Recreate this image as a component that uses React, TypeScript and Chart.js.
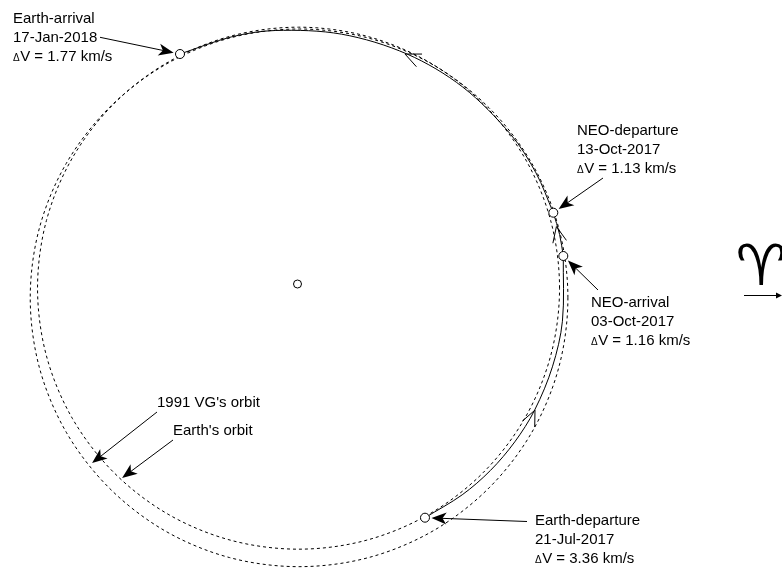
import { useEffect, useRef } from 'react';
import { Chart, registerables } from 'chart.js';

Chart.register(...registerables);

type Pt = { x: number; y: number };

// Heliocentric ecliptic coordinates in AU; +x points toward the vernal equinox.
const earthOrbit: Pt[] = [
  { x: 1.004, y: -0.016 }, { x: 0.970, y: 0.243 }, { x: 0.870, y: 0.484 }, { x: 0.711, y: 0.691 },
  { x: 0.504, y: 0.850 }, { x: 0.263, y: 0.950 }, { x: 0.004, y: 0.984 }, { x: -0.255, y: 0.950 },
  { x: -0.496, y: 0.850 }, { x: -0.703, y: 0.691 }, { x: -0.862, y: 0.484 }, { x: -0.962, y: 0.243 },
  { x: -0.996, y: -0.016 }, { x: -0.962, y: -0.275 }, { x: -0.862, y: -0.516 }, { x: -0.703, y: -0.723 },
  { x: -0.496, y: -0.882 }, { x: -0.255, y: -0.982 }, { x: 0.004, y: -1.016 }, { x: 0.263, y: -0.982 },
  { x: 0.504, y: -0.882 }, { x: 0.711, y: -0.723 }, { x: 0.870, y: -0.516 }, { x: 0.970, y: -0.275 },
];

const vgOrbit: Pt[] = [
  { x: 1.036, y: -0.053 }, { x: 1.001, y: 0.214 }, { x: 0.898, y: 0.462 }, { x: 0.734, y: 0.675 },
  { x: 0.521, y: 0.839 }, { x: 0.273, y: 0.942 }, { x: 0.006, y: 0.977 }, { x: -0.261, y: 0.942 },
  { x: -0.509, y: 0.839 }, { x: -0.722, y: 0.675 }, { x: -0.886, y: 0.462 }, { x: -0.989, y: 0.214 },
  { x: -1.024, y: -0.053 }, { x: -0.989, y: -0.320 }, { x: -0.886, y: -0.568 }, { x: -0.722, y: -0.781 },
  { x: -0.509, y: -0.945 }, { x: -0.261, y: -1.048 }, { x: 0.006, y: -1.083 }, { x: 0.273, y: -1.048 },
  { x: 0.521, y: -0.945 }, { x: 0.734, y: -0.781 }, { x: 0.898, y: -0.568 }, { x: 1.001, y: -0.320 },
];

const eventNames = ['Earth-departure', 'NEO-arrival', 'NEO-departure', 'Earth-arrival'];
const eventDates = ['21-Jul-2017', '03-Oct-2017', '13-Oct-2017', '17-Jan-2018'];
const eventDeltaV = ['3.36', '1.16', '1.13', '1.77'];
const eventPoints: Pt[] = [
  { x: 0.4885, y: -0.8954 },
  { x: 1.0184, y: 0.1073 },
  { x: 0.9801, y: 0.2732 },
  { x: -0.4502, y: 0.8812 },
];

const sunPoint: Pt[] = [{ x: 0, y: 0 }];

// Transfer trajectory: Earth -> NEO, stay at the NEO, NEO -> Earth
const outboundLeg: Pt[] = [
  eventPoints[0],
  { x: 0.6311, y: -0.8077 },
  { x: 0.7395, y: -0.7141 },
  { x: 0.8325, y: -0.6048 },
  { x: 0.9086, y: -0.4831 },
  { x: 0.9767, y: -0.3174 },
  { x: 1.0150, y: -0.1427 },
  eventPoints[1],
];
const stayArc: Pt[] = [eventPoints[1], { x: 1.0042, y: 0.1898 }, eventPoints[2]];
const returnLeg: Pt[] = [
  eventPoints[2],
  { x: 0.9136, y: 0.4260 },
  { x: 0.8175, y: 0.5724 },
  { x: 0.6331, y: 0.7546 },
  { x: 0.4201, y: 0.8809 },
  { x: 0.1688, y: 0.9572 },
  { x: -0.0850, y: 0.9713 },
  { x: -0.2536, y: 0.9466 },
  eventPoints[3],
];

// Direction-of-motion marks: tip position and heading (degrees, ecliptic frame)
const flowMarks = [
  { x: 0.910, y: -0.483, heading: 65 },
  { x: 0.992, y: 0.220, heading: 102 },
  { x: 0.412, y: 0.881, heading: 156 },
];

const orbitLabels = ["1991 VG's orbit", "Earth's orbit"];
const orbitLabelTips: Pt[] = [
  { x: -0.787, y: -0.686 },
  { x: -0.672, y: -0.743 },
];

// ---- layout (pixels) ----
const W = 782;
const H = 569;
const PX_PER_AU = 261;
const SUN_PX = { x: 297.5, y: 284 };
const X_MIN = -SUN_PX.x / PX_PER_AU;
const X_MAX = (W - SUN_PX.x) / PX_PER_AU;
const Y_MAX = SUN_PX.y / PX_PER_AU;
const Y_MIN = -(H - SUN_PX.y) / PX_PER_AU;

const FONT = '"Liberation Sans", Arial, Helvetica, sans-serif';
const LINE_STEP = 19;

const eventLabelLayout = [
  { left: 535, baseline: 525, tail: { x: 527, y: 521.5 } },
  { left: 591, baseline: 306.5, tail: { x: 598, y: 290 } },
  { left: 577, baseline: 135, tail: { x: 603, y: 178 } },
  { left: 13, baseline: 23.3, tail: { x: 100, y: 37.3 } },
];
const orbitLabelLayout = [
  { left: 157, baseline: 406.5, tail: { x: 157, y: 412 } },
  { left: 173, baseline: 435, tail: { x: 173, y: 440 } },
];

const closeLoop = (pts: Pt[]) => [pts[pts.length - 1], ...pts, pts[0], pts[1]];

function orbitDataset(pts: Pt[]) {
  const n = pts.length;
  return {
    data: closeLoop(pts),
    showLine: true,
    borderColor: '#000',
    borderWidth: 1,
    borderDash: [3, 3],
    pointRadius: 0,
    tension: 0.33,
    fill: false,
    segment: {
      borderColor: (c: any) => (c.p0DataIndex === 0 || c.p0DataIndex === n + 1 ? 'rgba(0,0,0,0)' : '#000'),
    },
  };
}

function pathDataset(pts: Pt[]) {
  return {
    data: pts,
    showLine: true,
    borderColor: '#000',
    borderWidth: 1,
    pointRadius: 0,
    tension: 0.33,
    fill: false,
  };
}

function filledHead(ctx: CanvasRenderingContext2D, tip: Pt, from: Pt, len: number, half: number, notch: number) {
  const a = Math.atan2(tip.y - from.y, tip.x - from.x);
  ctx.save();
  ctx.translate(tip.x, tip.y);
  ctx.rotate(a);
  ctx.beginPath();
  ctx.moveTo(0, 0);
  ctx.lineTo(-len, -half);
  ctx.lineTo(-len + notch, 0);
  ctx.lineTo(-len, half);
  ctx.closePath();
  ctx.fill();
  ctx.restore();
}

function pointer(ctx: CanvasRenderingContext2D, tail: Pt, tip: Pt) {
  const a = Math.atan2(tip.y - tail.y, tip.x - tail.x);
  ctx.beginPath();
  ctx.moveTo(tail.x, tail.y);
  ctx.lineTo(tip.x - Math.cos(a) * 8, tip.y - Math.sin(a) * 8);
  ctx.stroke();
  filledHead(ctx, tip, tail, 15, 6, 4);
}

function deltaLine(ctx: CanvasRenderingContext2D, left: number, baseline: number, value: string) {
  ctx.font = `10px ${FONT}`;
  ctx.fillText('\u0394', left, baseline);
  const w = ctx.measureText('\u0394').width;
  ctx.font = `15px ${FONT}`;
  ctx.fillText(`V = ${value} km/s`, left + w + 0.5, baseline);
}

const annotations = {
  id: 'annotations',
  afterDatasetsDraw(chart: any) {
    const ctx: CanvasRenderingContext2D = chart.ctx;
    const sx = chart.scales.x;
    const sy = chart.scales.y;
    const toPx = (p: Pt): Pt => ({ x: sx.getPixelForValue(p.x), y: sy.getPixelForValue(p.y) });

    ctx.save();
    ctx.strokeStyle = '#000';
    ctx.fillStyle = '#000';
    ctx.lineWidth = 1;
    ctx.setLineDash([]);

    // open arrowheads along the trajectory
    for (const m of flowMarks) {
      const tip = toPx(m);
      const back = (-m.heading * Math.PI) / 180 + Math.PI;
      const spread = (24 * Math.PI) / 180;
      ctx.beginPath();
      ctx.moveTo(tip.x + Math.cos(back - spread) * 17, tip.y + Math.sin(back - spread) * 17);
      ctx.lineTo(tip.x, tip.y);
      ctx.lineTo(tip.x + Math.cos(back + spread) * 17, tip.y + Math.sin(back + spread) * 17);
      ctx.stroke();
    }

    ctx.textAlign = 'left';
    ctx.textBaseline = 'alphabetic';

    // event labels with pointers
    eventNames.forEach((name, i) => {
      const lay = eventLabelLayout[i];
      ctx.font = `15px ${FONT}`;
      ctx.fillText(name, lay.left, lay.baseline);
      ctx.fillText(eventDates[i], lay.left, lay.baseline + LINE_STEP);
      deltaLine(ctx, lay.left, lay.baseline + 2 * LINE_STEP, eventDeltaV[i]);
      const c = toPx(eventPoints[i]);
      const a = Math.atan2(lay.tail.y - c.y, lay.tail.x - c.x);
      const tip = { x: c.x + Math.cos(a) * 6.5, y: c.y + Math.sin(a) * 6.5 };
      pointer(ctx, lay.tail, tip);
    });

    // orbit labels
    orbitLabels.forEach((name, i) => {
      const lay = orbitLabelLayout[i];
      ctx.font = `15px ${FONT}`;
      ctx.fillText(name, lay.left, lay.baseline);
      pointer(ctx, lay.tail, toPx(orbitLabelTips[i]));
    });

    // vernal equinox direction
    ctx.font = `57px "DejaVu Sans", sans-serif`;
    ctx.textAlign = 'center';
    ctx.fillText('\u2648', 761, 285);
    ctx.beginPath();
    ctx.moveTo(744, 295.5);
    ctx.lineTo(778, 295.5);
    ctx.stroke();
    filledHead(ctx, { x: 782, y: 295.5 }, { x: 744, y: 295.5 }, 6, 3, 0);

    ctx.restore();
  },
};

export default function App() {
  const ref = useRef<HTMLCanvasElement | null>(null);

  useEffect(() => {
    const canvas = ref.current;
    if (!canvas) return;
    const chart = new Chart(canvas, {
      type: 'scatter',
      data: {
        datasets: [
          {
            data: eventPoints,
            showLine: false,
            pointRadius: 4.5,
            pointBackgroundColor: '#fff',
            pointBorderColor: '#000',
            pointBorderWidth: 1,
          },
          {
            data: sunPoint,
            showLine: false,
            pointRadius: 4,
            pointBackgroundColor: '#fff',
            pointBorderColor: '#000',
            pointBorderWidth: 1,
          },
          pathDataset(outboundLeg),
          pathDataset(stayArc),
          pathDataset(returnLeg),
          orbitDataset(earthOrbit),
          orbitDataset(vgOrbit),
        ] as any,
      },
      options: {
        animation: false,
        responsive: false,
        maintainAspectRatio: false,
        events: [],
        layout: { padding: 0, autoPadding: false },
        plugins: { legend: { display: false }, tooltip: { enabled: false } },
        scales: {
          x: { type: 'linear', min: X_MIN, max: X_MAX, display: false },
          y: { type: 'linear', min: Y_MIN, max: Y_MAX, display: false },
        },
      },
      plugins: [annotations],
    });
    return () => chart.destroy();
  }, []);

  return (
    <div style={{ position: 'absolute', left: 0, top: 0, width: W, height: H, background: '#fff' }}>
      <canvas ref={ref} width={W} height={H} style={{ display: 'block' }} />
    </div>
  );
}
